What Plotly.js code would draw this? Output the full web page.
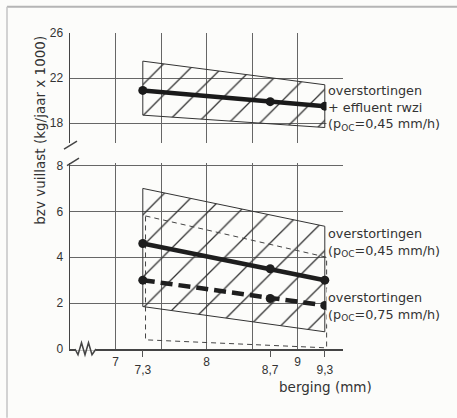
<!DOCTYPE html>
<html>
<head>
<meta charset="utf-8">
<script src="https://cdn.plot.ly/plotly-3.0.1.min.js"></script>
<style>html,body{margin:0;padding:0;background:#fcfcfa;}#chart{width:457px;height:418px;}</style>
</head>
<body>
<div id="chart"></div>
<script>
// ---- data ----
const berging = [7.3, 8.7, 9.3];            // berging (mm) at the markers
const bandX = [7.3, 9.3];
const totaalLast = [20.9, 19.9, 19.5];      // overstortingen + effluent rwzi (poc 0,45)
const totaalMax = [23.5, 21.4];
const totaalMin = [18.7, 17.6];
const last045 = [4.6, 3.5, 3.0];            // overstortingen (poc 0,45)
const max045 = [7.0, 5.35];
const min045 = [1.85, 0.75];
const last075 = [3.0, 2.2, 1.9];            // overstortingen (poc 0,75)
const bandX075 = [7.33, 9.32];
const max075 = [5.8, 4.0];
const min075 = [0.4, 0.05];
const yTicksBoven = [18, 22, 26];
const yTicksOnder = [0, 2, 4, 6, 8];
const xTicksHoofd = [7, 8, 9];
const xLabelsHoofd = ['7', '8', '9'];
const xTicksTussen = [7.3, 8.7, 9.3];
const xLabelsTussen = ['7,3', '8,7', '9,3'];

const BG = '#fcfcfa';
const GRID = '#666';
const TXT = 'DejaVu Sans, Verdana, sans-serif';

function band(xs, hi, lo) {
  return {
    x: [xs[0], xs[1], xs[1], xs[0], xs[0]],
    y: [hi[0], hi[1], lo[1], lo[0], hi[0]]
  };
}

const pattern = {shape: '/', size: 22, solidity: 0.06, fgcolor: '#333', bgcolor: 'rgba(0,0,0,0)'};

const bTot = band(bandX, totaalMax, totaalMin);
const b045 = band(bandX, max045, min045);
const b075 = band(bandX075, max075, min075);

const traces = [
  {x: bTot.x, y: bTot.y, xaxis: 'x', yaxis: 'y2', mode: 'lines', fill: 'toself',
   fillcolor: 'rgba(0,0,0,0)', fillpattern: pattern, line: {color: '#333', width: 1}, hoverinfo: 'skip'},
  {x: b045.x, y: b045.y, xaxis: 'x', yaxis: 'y', mode: 'lines', fill: 'toself',
   fillcolor: 'rgba(0,0,0,0)', fillpattern: pattern, line: {color: '#333', width: 1}, hoverinfo: 'skip'},
  {x: b075.x, y: b075.y, xaxis: 'x', yaxis: 'y', mode: 'lines',
   line: {color: '#444', width: 1, dash: '5px,4px'}, hoverinfo: 'skip'},
  {x: berging, y: totaalLast, xaxis: 'x', yaxis: 'y2', mode: 'lines+markers',
   line: {color: '#1a1a1a', width: 4.5}, marker: {size: 9, color: '#1a1a1a'}},
  {x: berging, y: last045, xaxis: 'x', yaxis: 'y', mode: 'lines+markers',
   line: {color: '#1e1e1e', width: 4.5}, marker: {size: 9, color: '#1e1e1e'}},
  {x: berging, y: last075, xaxis: 'x', yaxis: 'y', mode: 'lines+markers',
   line: {color: '#1e1e1e', width: 4.5, dash: '12px,6px'}, marker: {size: 9, color: '#1e1e1e'}},
  {x: berging, y: [null, null, null], xaxis: 'x3', yaxis: 'y', mode: 'markers', hoverinfo: 'skip', showlegend: false}
];

const axisFont = {family: 'Liberation Sans, Arial, sans-serif', size: 12, color: '#333'};

function px2paperX(px) { return (px - 70) / 273; }
function px2paperY(py) { return (349.3 - py) / 316; }

const layout = {
  width: 457, height: 418,
  margin: {l: 70, r: 114, t: 33, b: 69, pad: 0},
  paper_bgcolor: BG, plot_bgcolor: 'rgba(0,0,0,0)',
  showlegend: false,
  font: axisFont,
  xaxis: {
    range: [6.5, 9.5], anchor: 'y', tickvals: xTicksHoofd, ticktext: xLabelsHoofd,
    showgrid: true, gridcolor: GRID, gridwidth: 1,
    minor: {tick0: 6.5, dtick: 0.5, showgrid: true, gridcolor: GRID, gridwidth: 1, ticks: ''},
    showline: true, linecolor: '#444', linewidth: 1.5, ticks: '', zeroline: false,
    ticklabelstandoff: 1, tickfont: axisFont, fixedrange: true
  },
  xaxis3: {
    range: [6.5, 9.5], overlaying: 'x', anchor: 'y', side: 'bottom',
    tickvals: xTicksTussen, ticktext: xLabelsTussen, ticks: 'outside', ticklen: 7,
    tickcolor: '#555', tickwidth: 1, showgrid: false, zeroline: false, showline: false,
    ticklabelstandoff: 3, tickfont: axisFont, fixedrange: true
  },
  yaxis: {
    domain: [0, 0.588], range: [0, 8.1], tickvals: yTicksOnder,
    showgrid: true, gridcolor: GRID, gridwidth: 1, zeroline: false,
    showline: true, linecolor: '#444', linewidth: 1.5, ticks: '',
    ticklabelstandoff: 3, tickfont: axisFont, fixedrange: true
  },
  yaxis2: {
    domain: [0.651, 1], range: [16.2, 26], tickvals: yTicksBoven,
    showgrid: true, gridcolor: GRID, gridwidth: 1, zeroline: false,
    showline: true, linecolor: '#444', linewidth: 1.5, ticks: '',
    ticklabelstandoff: 3, tickfont: axisFont, fixedrange: true
  },
  annotations: [
    {xref: 'paper', yref: 'paper', x: px2paperX(40), y: px2paperY(131), textangle: -90,
     text: 'bzv vuillast (kg/jaar x 1000)', showarrow: false, xanchor: 'center', yanchor: 'middle',
     font: {family: TXT, size: 13.5, color: '#333'}},
    {xref: 'paper', yref: 'paper', x: px2paperX(325), y: px2paperY(387),
     text: 'berging (mm)', showarrow: false, xanchor: 'center', yanchor: 'middle',
     font: {family: TXT, size: 13.5, color: '#333'}},
    {xref: 'paper', yref: 'y2', x: px2paperX(326), y: 19.36, xanchor: 'left', yanchor: 'middle', align: 'left',
     text: 'overstortingen<br>+ effluent rwzi<br>(p<sub>OC</sub>=0,45 mm/h)', showarrow: false,
     bgcolor: BG, borderpad: 1, font: {family: TXT, size: 12.8, color: '#333'}},
    {xref: 'paper', yref: 'y', x: px2paperX(326), y: 4.63, xanchor: 'left', yanchor: 'middle', align: 'left',
     text: 'overstortingen<br>(p<sub>OC</sub>=0,45 mm/h)', showarrow: false,
     bgcolor: BG, borderpad: 1, font: {family: TXT, size: 12.8, color: '#333'}},
    {xref: 'paper', yref: 'y', x: px2paperX(326), y: 1.84, xanchor: 'left', yanchor: 'middle', align: 'left',
     text: 'overstortingen<br>(p<sub>OC</sub>=0,75 mm/h)', showarrow: false,
     bgcolor: BG, borderpad: 1, font: {family: TXT, size: 12.8, color: '#333'}}
  ],
  shapes: [
    // axis-break slashes on the y axis
    {type: 'line', xref: 'paper', yref: 'paper', x0: px2paperX(64), y0: px2paperY(149.5), x1: px2paperX(77), y1: px2paperY(141.5),
     line: {color: '#444', width: 1.5}},
    {type: 'line', xref: 'paper', yref: 'paper', x0: px2paperX(67), y0: px2paperY(166), x1: px2paperX(79), y1: px2paperY(158.5),
     line: {color: '#444', width: 1.5}},
    // cover part of the x axis and draw the zigzag break
    {type: 'rect', xref: 'paper', yref: 'paper', x0: px2paperX(75), x1: px2paperX(96), y0: px2paperY(351), y1: px2paperY(347.5),
     fillcolor: BG, line: {width: 0}},
    {type: 'path', xref: 'paper', yref: 'paper',
     path: 'M ' + px2paperX(75) + ',' + px2paperY(349.3) +
           ' L ' + px2paperX(78) + ',' + px2paperY(355) +
           ' L ' + px2paperX(81.5) + ',' + px2paperY(343) +
           ' L ' + px2paperX(85) + ',' + px2paperY(355) +
           ' L ' + px2paperX(88.5) + ',' + px2paperY(343) +
           ' L ' + px2paperX(92) + ',' + px2paperY(355) +
           ' L ' + px2paperX(96) + ',' + px2paperY(349.3),
     line: {color: '#444', width: 1.5}},
    // scan frame
    {type: 'line', xref: 'paper', yref: 'paper', x0: px2paperX(7), y0: px2paperY(7), x1: px2paperX(457), y1: px2paperY(7),
     line: {color: '#b5b5b5', width: 2}},
    {type: 'line', xref: 'paper', yref: 'paper', x0: px2paperX(7), y0: px2paperY(7), x1: px2paperX(7), y1: px2paperY(418),
     line: {color: '#c5c5c5', width: 1.5}}
  ]
};

Plotly.newPlot('chart', traces, layout, {staticPlot: true, displayModeBar: false});
</script>
</body>
</html>
